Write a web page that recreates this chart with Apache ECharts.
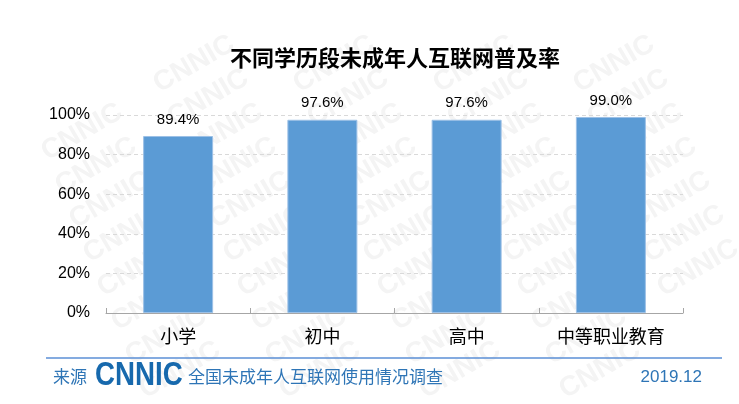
<!DOCTYPE html>
<html>
<head>
<meta charset="utf-8">
<script src="https://cdn.jsdelivr.net/npm/echarts@6/dist/echarts.min.js"></script>
<style>html,body{margin:0;padding:0;background:#fff;}#c{width:739px;height:404px;}</style>
</head>
<body>
<div id="c"></div>
<script>
const titleText = '不同学历段未成年人互联网普及率';
const categories = ['小学', '初中', '高中', '中等职业教育'];
const values = [89.4, 97.6, 97.6, 99.0];
const yTicks = [0, 20, 40, 60, 80, 100];
const sourceLabel = '来源';
const logoText = 'CNNIC';
const sourceText = '全国未成年人互联网使用情况调查';
const dateText = '2019.12';

const latin = '"Liberation Sans", Arial, "Noto Sans CJK SC", sans-serif';
const cjk = '"Noto Sans CJK SC", "Liberation Sans", sans-serif';

// watermark tiles
const marks = [];
for (let r = -2; r < 14; r++) {
  for (let c = -1; c < 7; c++) {
    const x = 40 + c * 140 + r * 14;
    const y = 30 + r * 34;
    if (x < 70 || x > 700 || y < 35 || y > 380) continue;
    marks.push({
      type: 'text', x: x, y: y, rotation: Math.PI / 6, z: -10, silent: true,
      style: { text: 'CNNIC', fill: '#f4f4f4', font: 'bold 28px "Liberation Sans", Arial', align: 'center', verticalAlign: 'middle' }
    });
  }
}

const chart = echarts.init(document.getElementById('c'), null, { renderer: 'canvas' });
chart.setOption({
  backgroundColor: '#fff',
  animation: false,
  title: {
    text: titleText, left: 225, top: 42,
    textStyle: { fontFamily: cjk, fontSize: 22, fontWeight: 'bold', color: '#000' }
  },
  grid: { left: 106, right: 56, top: 115, bottom: 91, containLabel: false },
  xAxis: {
    type: 'category', data: categories,
    axisLine: { lineStyle: { color: '#a6a6a6', width: 1 } },
    axisTick: { show: true, inside: true, length: 5, lineStyle: { color: '#a6a6a6' } },
    axisLabel: { fontFamily: cjk, fontSize: 18, color: '#000', margin: 14 }
  },
  yAxis: {
    type: 'value', min: yTicks[0], max: yTicks[yTicks.length - 1], interval: yTicks[1] - yTicks[0],
    axisLine: { show: false }, axisTick: { show: false },
    axisLabel: { formatter: '{value}%', fontFamily: latin, fontSize: 16, color: '#000', margin: 16 },
    splitLine: { lineStyle: { color: '#d9d9d9', type: [4, 3], width: 1 } }
  },
  series: [{
    type: 'bar', data: values, barWidth: 70,
    itemStyle: { color: '#5b9bd5', borderColor: '#9cc0e6', borderWidth: 1 },
    label: {
      show: true, position: 'top', distance: 9,
      formatter: p => p.value.toFixed(1) + '%',
      fontFamily: latin, fontSize: 15, color: '#000'
    }
  }],
  graphic: marks.concat([
    { type: 'line', shape: { x1: 46, y1: 358, x2: 722, y2: 358 }, style: { stroke: '#5b8fd6', lineWidth: 1.5 }, silent: true },
    { type: 'text', x: 53, y: 377, style: { text: sourceLabel, fill: '#2e75b6', font: '17px ' + cjk, verticalAlign: 'middle' } },
    { type: 'text', x: 95, y: 376, scaleX: 0.84, style: { text: logoText, fill: '#1769ad', font: 'bold 33px "Liberation Sans", Arial', verticalAlign: 'middle' } },
    { type: 'text', x: 188, y: 377, style: { text: sourceText, fill: '#2e75b6', font: '17px ' + cjk, verticalAlign: 'middle' } },
    { type: 'text', x: 702, y: 377, style: { text: dateText, fill: '#2e75b6', font: '17px ' + latin, align: 'right', verticalAlign: 'middle' } }
  ])
});
</script>
</body>
</html>
